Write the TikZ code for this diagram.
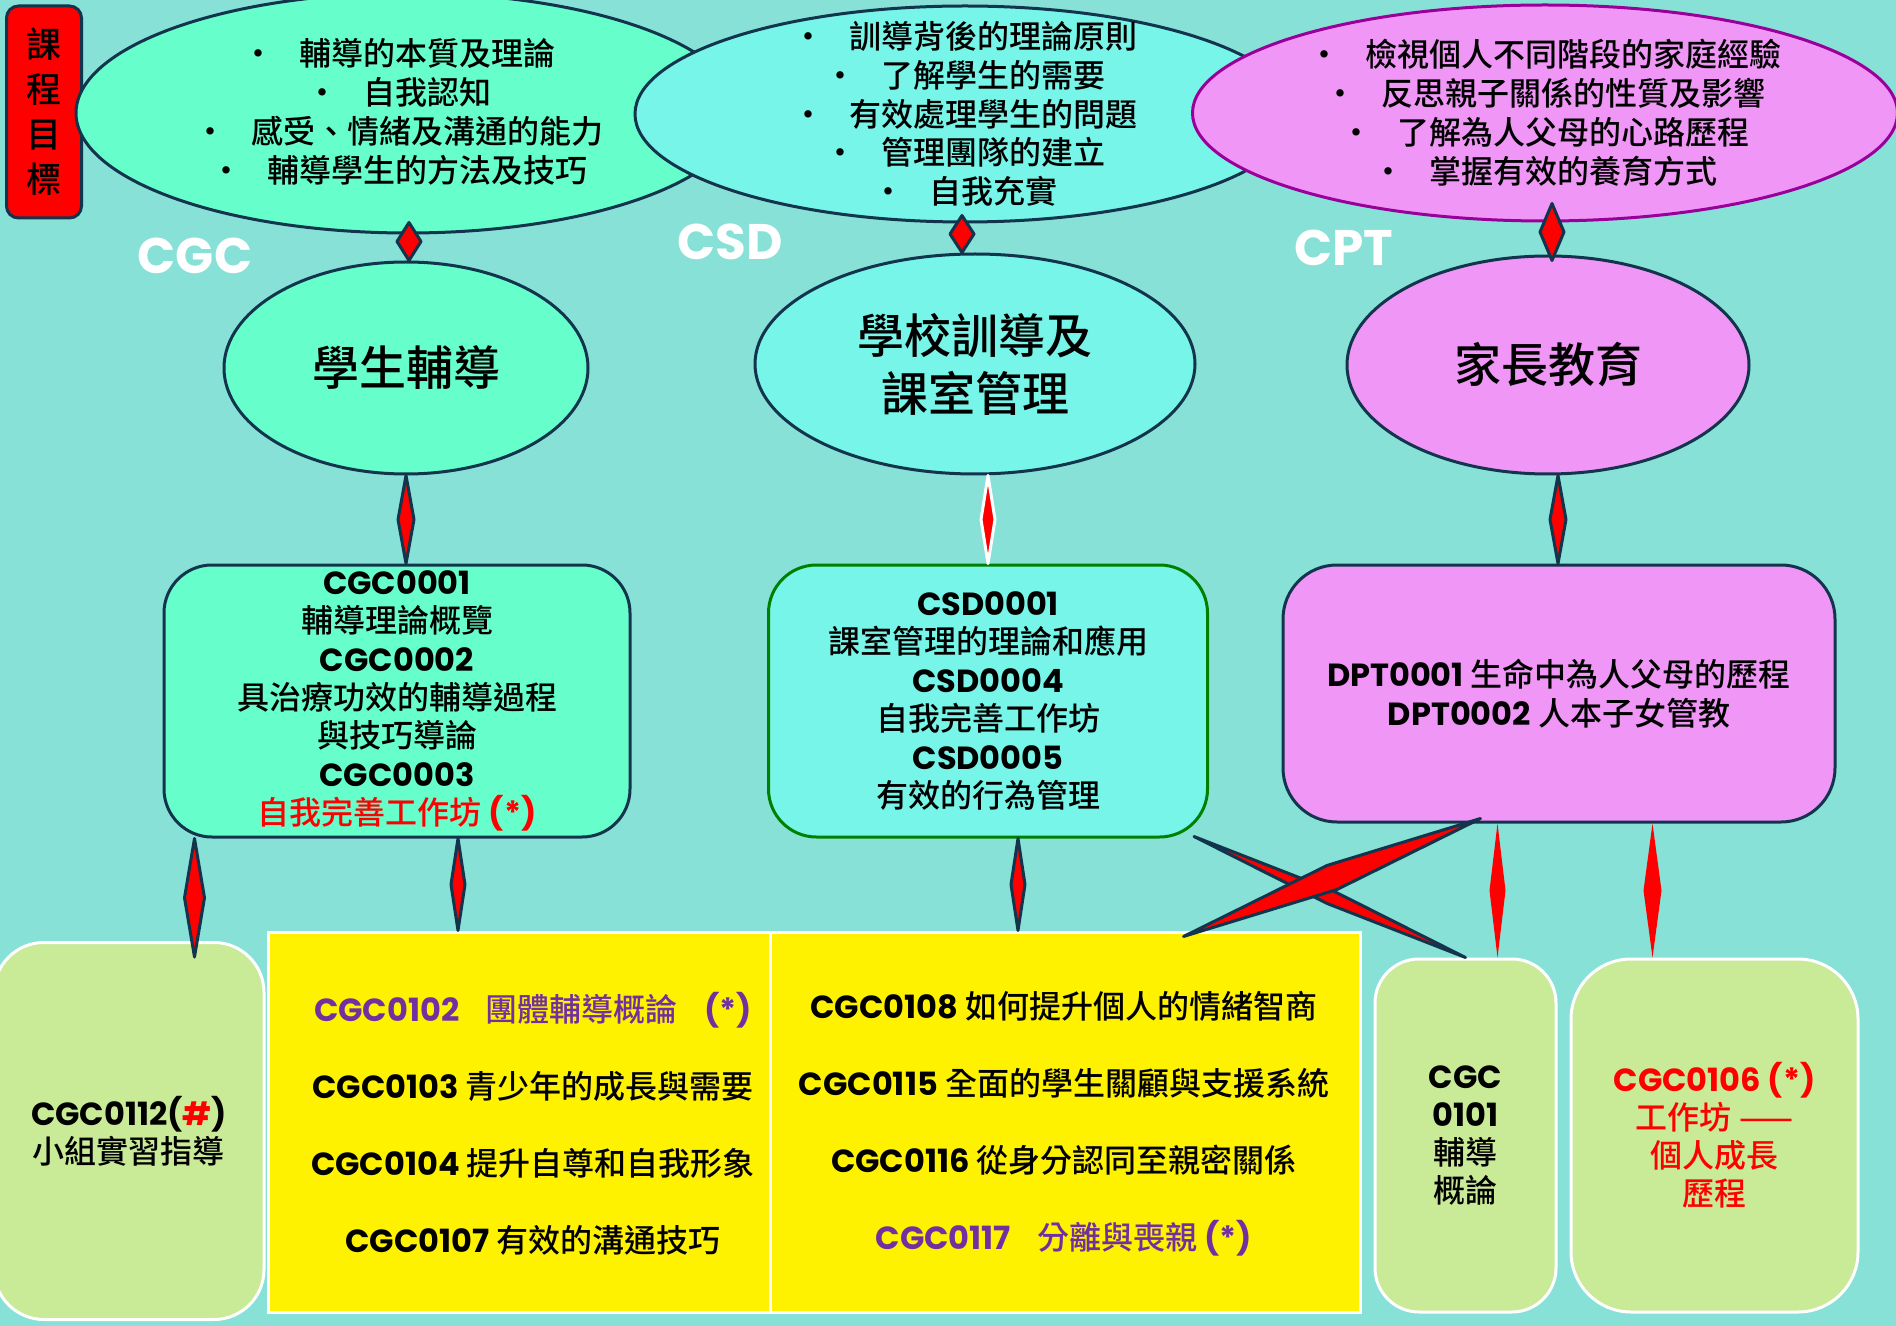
\documentclass[tikz,border=0pt]{standalone}
\usepackage{fontspec}
\setmainfont{Noto Sans CJK TC}[BoldFont={Noto Sans CJK TC Medium}]
\newfontfamily\geo{Poppins}
\usetikzlibrary{calc,shapes.geometric}

\definecolor{sea}{HTML}{88E1D7}
\definecolor{navy}{HTML}{12344D}
\definecolor{mint}{HTML}{66FFCC}
\definecolor{aqua}{HTML}{76F5E8}
\definecolor{orchid}{HTML}{F096F6}
\definecolor{plum}{HTML}{990099}
\definecolor{lime}{HTML}{C9EA97}
\definecolor{grape}{HTML}{7030A0}

\newcommand\cd[1]{{\geo #1}}
% diamond shaped connector between two points
\newcommand\joinup[4][]{%
  \filldraw[bond,#1] (#2) -- ($(#2)!.5!(#3)!#4!90:(#3)$) -- (#3)
    -- ($(#2)!.5!(#3)!#4!-90:(#3)$) -- cycle;}

\tikzset{
  bond/.style={fill=red, draw=navy, line width=1.5pt, line join=round},
  goal/.style={ellipse, draw=navy, line width=1.5pt, inner sep=0pt},
  goaltext/.style={align=center, font=\bfseries\fontsize{16}{19.4}\selectfont},
  topic/.style={ellipse, draw=navy, line width=1.5pt, inner sep=0pt, align=center,
    font=\bfseries\fontsize{23.5}{29}\selectfont},
  unit/.style={rounded corners=24pt, draw=navy, line width=1.5pt, inner sep=2pt,
    align=center, font=\bfseries\fontsize{16}{19.2}\selectfont},
  elective/.style={draw=white, fill=lime, line width=1.5pt, inner sep=2pt,
    align=center, font=\bfseries\fontsize{16}{19}\selectfont},
  area/.style={text=white, font=\geo\bfseries\fontsize{25}{30}\selectfont},
}

\begin{document}
\begin{tikzpicture}[x=0.5pt, y=-0.5pt]
\fill[sea] (0,0) rectangle (1896,1326);
\useasboundingbox (0,0) rectangle (1896,1326);

\node[draw=navy, fill=red, line width=1.5pt, rounded corners=6pt, inner sep=0pt,
  minimum width=37.5pt, minimum height=106pt, align=center,
  font=\bfseries\fontsize{17.5}{22.5}\selectfont] (title) at (44,112) {課\\程\\目\\標};

% course goals
\node[goal, fill=mint, minimum width=332pt, minimum height=120pt] (goal1) at (408,113) {};
\node[goaltext] (goal1txt) at (399,112) {•\hspace{.8em}輔導的本質及理論\\•\hspace{.8em}自我認知\\
  •\hspace{.8em}感受、情緒及溝通的能力\\•\hspace{.8em}輔導學生的方法及技巧};
\node[goal, fill=aqua, minimum width=330pt, minimum height=108pt] (goal2) at (965,114) {};
\node[goaltext] (goal2txt) at (goal2) {•\hspace{.8em}訓導背後的理論原則\\•\hspace{.8em}了解學生的需要\\
  •\hspace{.8em}有效處理學生的問題\\•\hspace{.8em}管理團隊的建立\\•\hspace{.8em}自我充實};
\node[goal, draw=plum, fill=orchid, minimum width=352.5pt, minimum height=108pt] (goal3) at (1545,113) {};
\node[goaltext] (goal3txt) at (goal3) {•\hspace{.8em}檢視個人不同階段的家庭經驗\\•\hspace{.8em}反思親子關係的性質及影響\\
  •\hspace{.8em}了解為人父母的心路歷程\\•\hspace{.8em}掌握有效的養育方式};

\node[area] (cgclabel) at (195,256) {CGC};
\node[area] (csdlabel) at (730,242) {CSD};
\node[area] (cptlabel) at (1344,248) {CPT};

% areas
\node[topic, fill=mint, minimum width=182pt, minimum height=106pt] (cgc) at (406,368) {學生輔導};
\node[topic, fill=aqua, minimum width=220pt, minimum height=110pt] (csd) at (975,364) {學校訓導及\\課室管理};
\node[topic, fill=orchid, minimum width=201pt, minimum height=109pt] (cpt) at (1548,365) {家長教育};

% core units
\node[unit, fill=mint, minimum width=233pt, minimum height=136pt] (cgcbox) at (397,701)
  {\cd{CGC0001}\\輔導理論概覽\\\cd{CGC0002}\\具治療功效的輔導過程\\與技巧導論\\\cd{CGC0003}\\
   \textcolor{red}{自我完善工作坊 \cd{(*)}}};
\node[unit, draw=green!50!black, fill=aqua, minimum width=219.5pt, minimum height=136pt] (csdbox) at (988,701)
  {\cd{CSD0001}\\課室管理的理論和應用\\\cd{CSD0004}\\自我完善工作坊\\\cd{CSD0005}\\有效的行為管理};
\node[unit, rounded corners=27pt, fill=orchid, minimum width=276pt, minimum height=128.5pt] (cptbox) at (1559,693.5)
  {\cd{DPT0001} 生命中為人父母的歷程\\\cd{DPT0002} 人本子女管教};

% electives
\node[elective, rounded corners=25pt, minimum width=135pt, minimum height=188.5pt] (pracbox) at (129,1131)
  {\cd{CGC0112(\textcolor{red}{\#})}\\小組實習指導};
\node[draw=white, fill=yellow, line width=1.5pt, minimum width=546pt, minimum height=190pt] (course) at (814,1122) {};
\coordinate (split) at (770,1122);
\draw[white, line width=1.5pt] (split |- course.north) -- (split |- course.south);
\node[align=center, font=\bfseries\fontsize{16}{38.5}\selectfont] (leftcol) at (533,1124)
  {\textcolor{grape}{\cd{CGC0102}\hspace{.6em} 團體輔導概論\hspace{.6em} \cd{(*)}}\\
   \cd{CGC0103} 青少年的成長與需要\\\cd{CGC0104} 提升自尊和自我形象\\\cd{CGC0107} 有效的溝通技巧};
\node[align=center, font=\bfseries\fontsize{16}{38.5}\selectfont] (rightcol) at (1064,1124)
  {\cd{CGC0108} 如何提升個人的情緒智商\\\cd{CGC0115} 全面的學生關顧與支援系統\\
   \cd{CGC0116} 從身分認同至親密關係\\\textcolor{grape}{\cd{CGC0117}\hspace{.6em} 分離與喪親 \cd{(*)}}};
\node[elective, rounded corners=22pt, minimum width=90.5pt, minimum height=176.5pt] (introbox) at (1465.5,1135.5)
  {\cd{CGC}\\\cd{0101}\\輔導\\概論};
\node[elective, rounded corners=30pt, minimum width=143.5pt, minimum height=176.5pt, text=red] (workbox) at (1714.5,1135.5)
  {\cd{CGC0106 (*)}\\工作坊 ——\\個人成長\\歷程};

% connectors
\coordinate (t1a) at ($(goal1.south -| cgc.north)+(3,-12)$);
\coordinate (t2a) at ($(goal2.south)+(-3,-8)$);
\coordinate (t3a) at ($(goal3.south -| cpt.north)+(4,-19)$);
\coordinate (t3b) at ($(cpt.north)+(4,6)$);
\joinup{t1a}{t1a |- cgc.north}{6pt}
\joinup{t2a}{t2a |- csd.north}{6pt}
\joinup{t3a}{t3b}{6pt}

\joinup{cgc.south}{cgc.south |- cgcbox.north}{4pt}
\joinup[draw=white]{csd.south -| csdbox.north}{csdbox.north}{3.5pt}
\coordinate (m3a) at ($(cpt.south)+(10,0)$);
\joinup{m3a}{m3a |- cptbox.north}{4pt}

\coordinate (b1a) at ($(cgcbox.south west)+(32,0)$);
\coordinate (b1b) at ($(b1a |- pracbox.north)+(0,16)$);
\coordinate (b2a) at ($(cgcbox.south)+(61,0)$);
\coordinate (b3a) at ($(csdbox.south)+(30,0)$);
\joinup{b1a}{b1b}{5pt}
\joinup{b2a}{b2a |- course.north}{3.5pt}
\joinup{b3a}{b3a |- course.north}{3.5pt}

\coordinate (x1a) at ($(csdbox.south east)+(-15,-2)$);
\coordinate (x2a) at ($(cptbox.south west)+(199,-5)$);
\coordinate (x2b) at ($(course.north east)+(-178,6)$);
\joinup{x1a}{introbox.north}{3.5pt}
\joinup{x2a}{x2b}{6.5pt}

\coordinate (r1a) at ($(cptbox.south west)+(216,0)$);
\coordinate (r2a) at ($(cptbox.south west)+(371,0)$);
\joinup[draw=none]{r1a}{r1a |- introbox.north}{4pt}
\joinup[draw=none]{r2a}{r2a |- workbox.north}{4.5pt}
\end{tikzpicture}
\end{document}
